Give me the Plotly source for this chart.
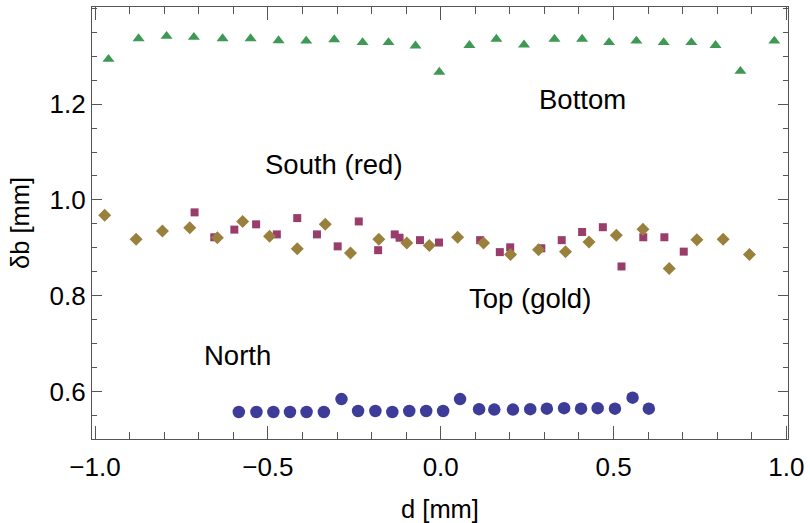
import plotly.graph_objects as go

# Bottom (green triangles)
bottom_x = [-0.961, -0.874, -0.793, -0.714, -0.631, -0.550, -0.469, -0.389, -0.308, -0.226,
            -0.151, -0.073, -0.004, 0.083, 0.161, 0.241, 0.329, 0.409, 0.487, 0.566,
            0.645, 0.725, 0.795, 0.867, 0.965]
bottom_y = [1.294, 1.337, 1.342, 1.340, 1.337, 1.337, 1.333, 1.332, 1.335, 1.329,
            1.329, 1.322, 1.267, 1.323, 1.336, 1.324, 1.336, 1.336, 1.329, 1.332,
            1.329, 1.329, 1.323, 1.269, 1.332]

# South (red squares)
south_x = [-0.712, -0.655, -0.597, -0.534, -0.474, -0.415, -0.358, -0.298, -0.237, -0.181,
           -0.133, -0.119, -0.060, -0.005, 0.114, 0.171, 0.201, 0.291, 0.350, 0.409,
           0.469, 0.523, 0.586, 0.647, 0.703]
south_y = [0.974, 0.922, 0.938, 0.949, 0.928, 0.962, 0.928, 0.903, 0.955, 0.895,
           0.928, 0.921, 0.916, 0.911, 0.916, 0.891, 0.901, 0.899, 0.916, 0.933,
           0.943, 0.861, 0.922, 0.922, 0.892]

# Top (gold diamonds)
top_x = [-0.972, -0.881, -0.805, -0.726, -0.646, -0.573, -0.495, -0.415, -0.334, -0.261,
         -0.179, -0.098, -0.033, 0.049, 0.124, 0.202, 0.283, 0.361, 0.429, 0.508,
         0.585, 0.661, 0.741, 0.817, 0.893]
top_y = [0.968, 0.918, 0.935, 0.942, 0.921, 0.955, 0.924, 0.898, 0.949, 0.889,
         0.918, 0.910, 0.905, 0.922, 0.910, 0.886, 0.896, 0.892, 0.912, 0.926,
         0.939, 0.857, 0.917, 0.918, 0.886]

# North (blue circles)
north_x = [-0.584, -0.533, -0.484, -0.436, -0.388, -0.338, -0.287, -0.239, -0.189, -0.140,
           -0.091, -0.042, 0.007, 0.056, 0.111, 0.155, 0.209, 0.259, 0.307, 0.357,
           0.406, 0.454, 0.504, 0.555, 0.602]
north_y = [0.557, 0.557, 0.557, 0.557, 0.557, 0.557, 0.584, 0.559, 0.559, 0.557,
           0.559, 0.559, 0.559, 0.584, 0.563, 0.562, 0.562, 0.563, 0.564, 0.565,
           0.564, 0.565, 0.564, 0.587, 0.564]

labels = ["Bottom", "South (red)", "Top (gold)", "North"]
label_x = [0.410, -0.308, 0.257, -0.588]
label_y = [1.209, 1.073, 0.795, 0.676]

x_ticks = [-1.0, -0.5, 0.0, 0.5, 1.0]
x_ticktext = ["\u22121.0", "\u22120.5", "0.0", "0.5", "1.0"]
y_ticks = [0.6, 0.8, 1.0, 1.2]
y_ticktext = ["0.6", "0.8", "1.0", "1.2"]

GREEN = "rgb(61,153,84)"
RED = "rgb(153,61,107)"
GOLD = "rgb(153,128,61)"
BLUE = "rgb(61,61,153)"
FONT = "Liberation Sans, Arial"

fig = go.Figure()
fig.add_trace(go.Scatter(x=bottom_x, y=bottom_y, mode="markers",
                         marker=dict(symbol="triangle-up", size=10.5, color=GREEN), name="Bottom"))
fig.add_trace(go.Scatter(x=south_x, y=south_y, mode="markers",
                         marker=dict(symbol="square", size=8, color=RED), name="South"))
fig.add_trace(go.Scatter(x=top_x, y=top_y, mode="markers",
                         marker=dict(symbol="diamond", size=10, color=GOLD), name="Top"))
fig.add_trace(go.Scatter(x=north_x, y=north_y, mode="markers",
                         marker=dict(symbol="circle", size=12.5, color=BLUE), name="North"))

for t, x, y in zip(labels, label_x, label_y):
    fig.add_annotation(x=x, y=y, text=t, showarrow=False, xanchor="center", yanchor="middle",
                       font=dict(family=FONT, size=27.5, color="black"))

axis_common = dict(showline=True, linecolor="#555555", linewidth=1.2, mirror="allticks",
                   ticks="inside", tickcolor="#555555", showgrid=False, zeroline=False,
                   tickfont=dict(family=FONT, size=26, color="black"))

fig.update_xaxes(range=[-1.0087, 1.0046], tickvals=x_ticks, ticktext=x_ticktext, ticklen=13,
                 ticklabelstandoff=5,
                 minor=dict(dtick=0.1, tick0=0, ticks="inside", ticklen=7, tickcolor="#555555"),
                 title=dict(text="d [mm]", font=dict(family=FONT, size=25.5, color="black"),
                            standoff=20),
                 **axis_common)
fig.update_yaxes(range=[0.5006, 1.403], tickvals=y_ticks, ticktext=y_ticktext, ticklen=10,
                 minor=dict(dtick=0.05, tick0=0, ticks="inside", ticklen=5, tickcolor="#555555"),
                 title=dict(text="\u03b4b [mm]", font=dict(family=FONT, size=25.5, color="black"),
                            standoff=12),
                 **axis_common)

fig.update_layout(width=810, height=523, showlegend=False,
                  margin=dict(l=92, r=22, t=7, b=84, autoexpand=False),
                  plot_bgcolor="white", paper_bgcolor="white")

fig.write_html("out.html", config={"displayModeBar": False},
               post_script="document.body.style.margin='0';")
